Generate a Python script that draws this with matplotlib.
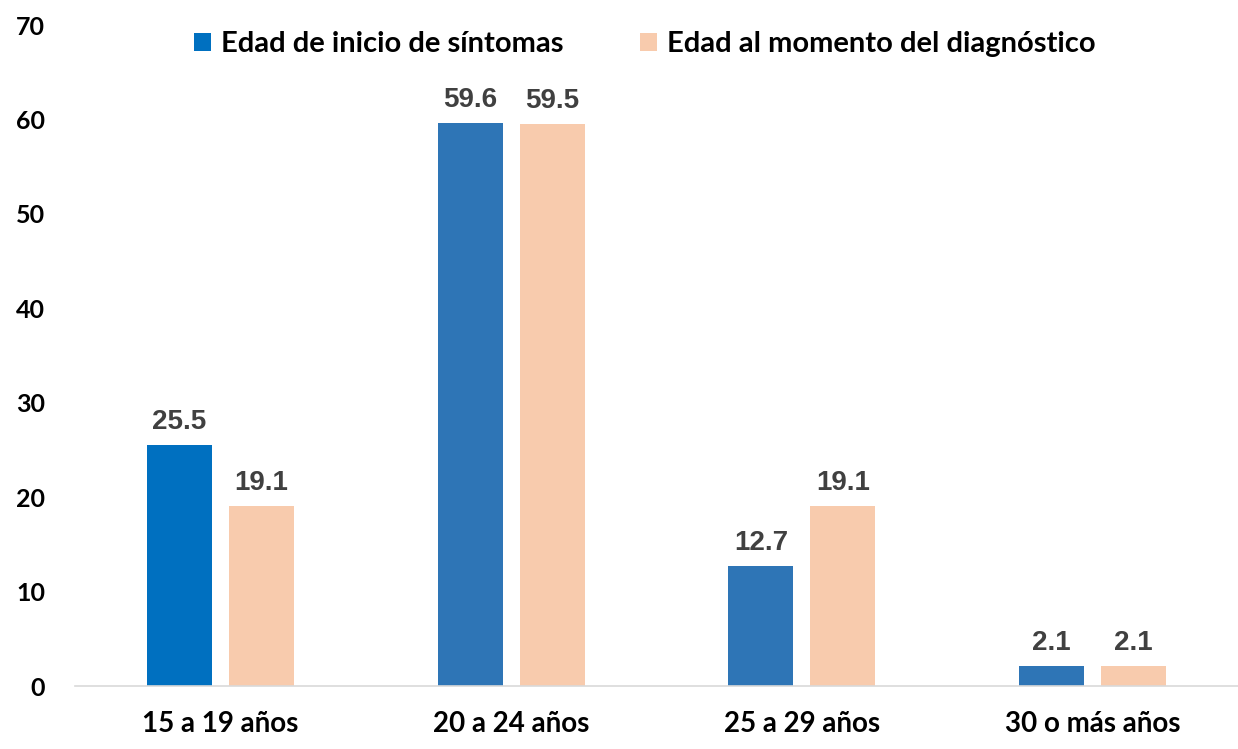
import matplotlib
matplotlib.use("Agg")
import matplotlib.pyplot as plt
import numpy as np

categories = ["15 a 19 años", "20 a 24 años", "25 a 29 años", "30 o más años"]
inicio = [25.5, 59.6, 12.7, 2.1]
diagnostico = [19.1, 59.5, 19.1, 2.1]
series_names = ["Edad de inicio de síntomas", "Edad al momento del diagnóstico"]

blue = "#2E75B6"
first_blue = "#0070C0"
peach = "#F8CBAD"
label_color = "#404040"

fig = plt.figure(figsize=(12.38, 7.49), dpi=100)
ax = fig.add_axes([0.0606, 0.0841, 0.9394, 0.8825])

x = np.arange(len(categories))
w = 0.223
off = 0.141

b1 = ax.bar(x - off, inicio, w, color=[first_blue] + [blue] * 3, label=series_names[0])
b2 = ax.bar(x + off, diagnostico, w, color=peach, label=series_names[1])

for bars, vals in ((b1, inicio), (b2, diagnostico)):
    for rect, v in zip(bars, vals):
        ax.annotate(f"{v:.1f}", (rect.get_x() + rect.get_width() / 2, v),
                    xytext=(0, 7), textcoords="offset points",
                    ha="center", va="bottom", fontsize=20, fontweight="bold",
                    family="Liberation Sans", color=label_color)

ax.set_xlim(-0.5, 3.5)
ax.set_ylim(0, 70)
ax.set_yticks(range(0, 71, 10))
ax.set_xticks(x)
ax.set_xticklabels(categories)

for s in ("top", "right", "left"):
    ax.spines[s].set_visible(False)
ax.spines["bottom"].set_color("#D9D9D9")
ax.spines["bottom"].set_linewidth(1.2)
ax.tick_params(axis="both", length=0)
ax.tick_params(axis="y", pad=21.5, labelsize=18)
ax.tick_params(axis="x", pad=18, labelsize=20)
for lbl in ax.get_xticklabels() + ax.get_yticklabels():
    lbl.set_fontfamily("Lato")
    lbl.set_fontweight("bold")
    lbl.set_color("black")

leg = ax.legend(loc="upper center", bbox_to_anchor=(0.49, 1.03), ncol=2,
                frameon=False, handlelength=0.6, handleheight=0.6,
                handletextpad=0.35, columnspacing=2.6,
                prop={"family": "Lato", "weight": "bold", "size": 21})

fig.savefig("out.png", dpi=100)
